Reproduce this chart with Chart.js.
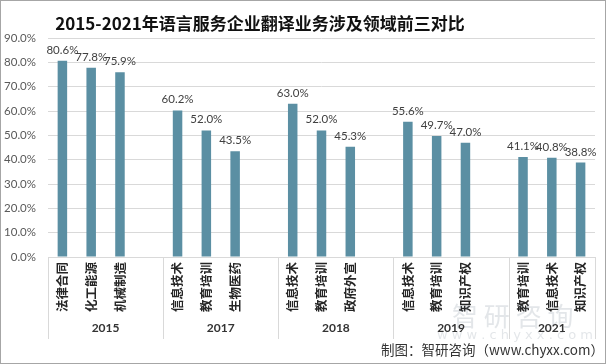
<!DOCTYPE html>
<html>
<head>
<meta charset="utf-8">
<script src="https://cdn.jsdelivr.net/npm/chart.js@4/dist/chart.umd.min.js"></script>
<style>
html,body{margin:0;padding:0;background:#fff;}
#wrap{width:606px;height:364px;position:relative;}
canvas{display:block;}
</style>
</head>
<body>
<div id="wrap"><canvas id="c" width="606" height="364"></canvas></div>
<script>
// ---- data ----
const titleText = '2015-2021年语言服务企业翻译业务涉及领域前三对比';
const sourceText = '制图：智研咨询（www.chyxx.com）';
const years = ['2015', '2017', '2018', '2019', '2021'];
// categories per slot; '' marks the empty gap slot that closes a year group
const categories = [
  '法律合同', '化工能源', '机械制造', '',
  '信息技术', '教育培训', '生物医药', '',
  '信息技术', '教育培训', '政府外宣', '',
  '信息技术', '教育培训', '知识产权', '',
  '教育培训', '信息技术', '知识产权'
];
const values = [
  80.6, 77.8, 75.9, null,
  60.2, 52.0, 43.5, null,
  63.0, 52.0, 45.3, null,
  55.6, 49.7, 47.0, null,
  41.1, 40.8, 38.8
];
const yTicks = [0, 10, 20, 30, 40, 50, 60, 70, 80, 90];

const BAR = '#5B8FA3';
const GRID = '#D9D9D9';

// group start indices derived from the blank separators
function groupStarts() {
  const s = [0];
  categories.forEach((c, i) => { if (c === '' && i + 1 < categories.length) s.push(i + 1); });
  return s;
}

const extras = {
  id: 'extras',
  afterDraw(chart) {
    const ctx = chart.ctx;
    const x = chart.scales.x;
    const area = chart.chartArea;
    ctx.save();

    // watermark (faint)
    ctx.globalAlpha = 0.22;
    ctx.fillStyle = '#7f8c99';
    ctx.font = '26px "Noto Sans CJK SC"';
    ctx.textAlign = 'left';
    ctx.textBaseline = 'middle';
    ctx.fillText('智 研 咨 询', 452, 316);
    ctx.font = '13px "DejaVu Sans"';
    ctx.fillText('w w w . c h y x x . c o m', 437, 336);
    ctx.globalAlpha = 1;

    // value labels
    const meta = chart.getDatasetMeta(0);
    ctx.fillStyle = '#404040';
    ctx.font = '11.5px Lato';
    ctx.textAlign = 'center';
    ctx.textBaseline = 'bottom';
    meta.data.forEach((bar, i) => {
      if (values[i] == null) return;
      ctx.fillText(values[i].toFixed(1) + '%', bar.x, bar.y - 5);
    });

    // year group separators and labels
    const starts = groupStarts();
    const slot = (area.right - area.left) / categories.length;
    const edges = starts.map(i => x.getPixelForValue(i) - slot / 2);
    edges.push(x.getPixelForValue(categories.length - 1) + slot / 2);
    ctx.strokeStyle = GRID;
    ctx.lineWidth = 1;
    edges.forEach(e => {
      const px = Math.round(e) + 0.5;
      ctx.beginPath();
      ctx.moveTo(px, area.bottom);
      ctx.lineTo(px, 339);
      ctx.stroke();
    });
    ctx.fillStyle = '#333333';
    ctx.font = 'bold 12px Lato';
    ctx.textAlign = 'center';
    ctx.textBaseline = 'middle';
    years.forEach((y, k) => {
      ctx.fillText(y, (edges[k] + edges[k + 1]) / 2, 328);
    });

    // title
    ctx.fillStyle = '#111111';
    ctx.font = 'bold 17px "Noto Sans CJK SC"';
    ctx.textAlign = 'center';
    ctx.textBaseline = 'middle';
    ctx.fillText(titleText, 260, 24);

    // source
    ctx.fillStyle = '#333333';
    ctx.font = '13.5px "Noto Sans CJK SC"';
    ctx.textAlign = 'right';
    ctx.fillText(sourceText, 604, 350);

    // outer border
    ctx.strokeStyle = '#A6A6A6';
    ctx.strokeRect(0.5, 0.5, 605, 363);
    ctx.restore();
  }
};

new Chart(document.getElementById('c'), {
  type: 'bar',
  data: {
    labels: categories,
    datasets: [{
      data: values,
      backgroundColor: BAR,
      categoryPercentage: 1,
      barPercentage: 0.33
    }]
  },
  options: {
    responsive: false,
    animation: false,
    layout: { padding: { left: 0, right: 11, top: 38, bottom: 0 } },
    plugins: {
      legend: { display: false },
      tooltip: { enabled: false },
      title: { display: false }
    },
    scales: {
      x: {
        grid: { display: false, drawTicks: false },
        border: { display: true, color: GRID },
        ticks: {
          autoSkip: false,
          minRotation: 90,
          maxRotation: 90,
          padding: 5,
          color: '#262626',
          font: { size: 12.5, weight: 'bold', family: '"Noto Sans CJK SC"' }
        },
        afterFit(s) { s.height = 107; }
      },
      y: {
        min: 0,
        max: 90,
        afterBuildTicks(s) { s.ticks = yTicks.map(v => ({ value: v })); },
        ticks: {
          callback: v => v.toFixed(1) + '%',
          color: '#595959',
          font: { size: 11.5, family: 'Lato' },
          padding: 12
        },
        grid: { color: GRID, drawTicks: false },
        border: { display: false },
        afterFit(s) { s.width = 48; }
      }
    }
  },
  plugins: [extras]
});
</script>
</body>
</html>
